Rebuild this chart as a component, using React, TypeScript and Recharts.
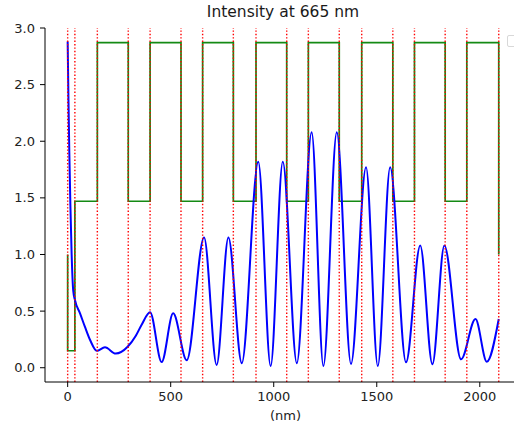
import { LineChart, Line, XAxis, YAxis, ReferenceLine } from 'recharts'

// layer boundaries (nm)
const layerEdges = [0, 35, 144, 294, 400, 550, 655, 804, 914, 1063, 1168, 1318, 1427, 1578, 1683, 1832, 1937, 2092]
// refractive index in each layer, between consecutive edges
const layerIndex = [0.15, 1.47, 2.87, 1.47, 2.87, 1.47, 2.87, 1.47, 2.87, 1.47, 2.87, 1.47, 2.87, 1.47, 2.87, 1.47, 2.87]
const ambientIndex = 1.0

// intensity curve, read point by point
const depth = [
  0, 4, 8, 13, 19, 27, 35, 60, 84, 110, 141, 181, 233, 291, 330, 359, 400,
  456, 512, 578, 662, 723, 780, 845, 925, 985, 1044, 1112, 1184, 1241, 1306,
  1375, 1448, 1505, 1565, 1642, 1711, 1770, 1828, 1909, 1979, 2034, 2092,
]
const intensity = [
  2.88, 2.35, 1.9, 1.45, 1.02, 0.68, 0.6, 0.48, 0.36, 0.24, 0.15, 0.18, 0.125, 0.185, 0.28, 0.38, 0.49,
  0.05, 0.48, 0.065, 1.15, 0.025, 1.15, 0.04, 1.82, 0.015, 1.82, 0.04, 2.08, 0.015, 2.08,
  0.033, 1.77, 0.015, 1.77, 0.048, 1.08, 0.03, 1.08, 0.074, 0.43, 0.053, 0.43,
]

const xTicks = [0, 500, 1000, 1500, 2000]
const yTicks = [0, 0.5, 1, 1.5, 2, 2.5, 3]

const font = 'DejaVu Sans, sans-serif'

export default function App() {
  const intensityData = depth.map((x, i) => ({ x, y: intensity[i] }))

  const indexData: { x: number; y: number }[] = [{ x: layerEdges[0], y: ambientIndex }]
  layerIndex.forEach((n, i) => {
    indexData.push({ x: layerEdges[i], y: n })
    indexData.push({ x: layerEdges[i + 1], y: n })
  })
  indexData.push({ x: layerEdges[layerEdges.length - 1], y: ambientIndex })

  return (
    <div style={{ position: 'fixed', left: 0, top: 0, width: 514, height: 427, overflow: 'hidden', background: '#fff', fontFamily: font }}>
      <div style={{ position: 'absolute', left: 45, width: 476, top: 4, fontSize: 15.5, lineHeight: '16px', textAlign: 'center', color: '#1a1a1a' }}>
        Intensity at 665 nm
      </div>
      <LineChart width={530} height={427} margin={{ top: 28, right: 9, bottom: 15, left: 0 }}>
        <XAxis
          dataKey="x"
          type="number"
          domain={[-110, 2200]}
          allowDataOverflow
          ticks={xTicks}
          height={30}
          tickSize={5}
          tickMargin={5}
          tick={{ fontSize: 13, fill: '#222', fontFamily: font }}
          stroke="#000"
        />
        <XAxis
          xAxisId="top"
          orientation="top"
          type="number"
          domain={[-110, 2200]}
          height={0}
          tick={false}
          tickLine={false}
          stroke="#000"
        />
        <YAxis
          type="number"
          domain={[-0.126, 3.0]}
          allowDataOverflow
          ticks={yTicks}
          width={45}
          tickSize={5}
          tickMargin={5}
          tickFormatter={(v) => Number(v).toFixed(1)}
          tick={{ fontSize: 13, fill: '#222', fontFamily: font }}
          stroke="#000"
        />
        <Line data={indexData} dataKey="y" type="linear" stroke="#148a14" strokeWidth={1.7} dot={false} isAnimationActive={false} />
        <Line data={intensityData} dataKey="y" type="monotone" stroke="#0000ff" strokeWidth={2} dot={false} isAnimationActive={false} />
        {layerEdges.map((e) => (
          <ReferenceLine key={e} x={e} stroke="#ff0000" strokeWidth={1.4} strokeDasharray="1.4 2" />
        ))}
      </LineChart>
      <div style={{ position: 'absolute', left: 0, width: 571, top: 408, fontSize: 13, lineHeight: '16px', textAlign: 'center', color: '#222' }}>
        (nm)
      </div>
      <div style={{ position: 'absolute', left: 507, top: 35, width: 16, height: 10, border: '1px solid #d8d8d8', borderRadius: 2, background: '#fff' }} />
    </div>
  )
}
